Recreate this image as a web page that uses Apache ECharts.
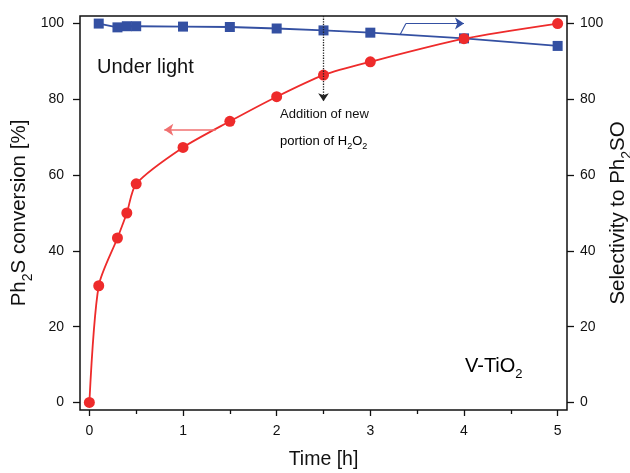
<!DOCTYPE html>
<html>
<head>
<meta charset="utf-8">
<script src="https://cdn.jsdelivr.net/npm/echarts@6/dist/echarts.min.js"></script>
<style>html,body{margin:0;padding:0;background:#fff}#c{width:630px;height:473px}</style>
</head>
<body>
<div id="c"></div>
<script>
// Data
const timeConv = [0, 0.1, 0.3, 0.4, 0.5, 1, 1.5, 2, 2.5, 3, 4, 5];
const conversion = [0, 30.8, 43.4, 50.0, 57.7, 67.3, 74.2, 80.7, 86.4, 89.9, 96.0, 100];
const timeSel = [0.1, 0.3, 0.4, 0.5, 1, 1.5, 2, 2.5, 3, 4, 5];
const selectivity = [100, 99.0, 99.3, 99.3, 99.2, 99.1, 98.7, 98.2, 97.6, 96.1, 94.1];
const xTicks = [0, 1, 2, 3, 4, 5];
const xMinorTicks = [0.5, 1.5, 2.5, 3.5, 4.5];
const yTicks = [0, 20, 40, 60, 80, 100];
const additionTime = 2.5;

const RED = '#ee2b2b';
const BLUE = '#3450a2';
const FONT = 'Liberation Sans, Arial, sans-serif';

const chart = echarts.init(document.getElementById('c'));
const tick = (vals, len) => ({show: true, customValues: vals, length: len, lineStyle: {color: '#111', width: 1.3}});

chart.setOption({
  animation: false,
  textStyle: {fontFamily: FONT},
  grid: {left: 80, right: 63, top: 16, bottom: 63, outerBoundsMode: 'none', containLabel: false,
         show: true, borderColor: '#111', borderWidth: 1.5, backgroundColor: 'transparent'},
  xAxis: [{
    type: 'value', min: -0.1, max: 5.1, position: 'bottom',
    axisLine: {show: false, onZero: false},
    axisTick: tick(xTicks, 6),
    axisLabel: {customValues: xTicks, fontSize: 14, color: '#111', margin: 14},
    splitLine: {show: false},
    name: 'Time [h]', nameLocation: 'middle', nameGap: 40, nameMoveOverlap: false,
    nameTextStyle: {fontSize: 19.5, color: '#111'}
  }, {
    type: 'value', min: -0.1, max: 5.1, position: 'bottom',
    axisLine: {show: false, onZero: false},
    axisTick: tick(xMinorTicks, 4),
    axisLabel: {show: false},
    splitLine: {show: false}
  }],
  yAxis: [{
    type: 'value', min: -2, max: 102, position: 'left',
    axisLine: {show: false, onZero: false},
    axisTick: tick(yTicks, 7),
    axisLabel: {customValues: yTicks, fontSize: 14, color: '#111', margin: 16},
    splitLine: {show: false},
    name: '{n|Ph}{sub|2}{n|S conversion [%]}', nameLocation: 'middle', nameGap: 50, nameRotate: 90, nameMoveOverlap: false,
    nameTextStyle: {fontSize: 20.5, color: '#111', rich: {
      n: {fontSize: 20.5, fontFamily: FONT, color: '#111'},
      sub: {fontSize: 14, fontFamily: FONT, color: '#111', verticalAlign: 'bottom', padding: [0, 0, -5, 0]}}}
  }, {
    type: 'value', min: -2, max: 102, position: 'right',
    axisLine: {show: false, onZero: false},
    axisTick: tick(yTicks, 7),
    axisLabel: {customValues: yTicks, fontSize: 14, color: '#111', margin: 13},
    splitLine: {show: false},
    name: '{n|Selectivity to Ph}{sub|2}{n|SO}', nameLocation: 'middle', nameGap: 41, nameRotate: 90, nameMoveOverlap: false,
    nameTextStyle: {fontSize: 20.5, color: '#111', rich: {
      n: {fontSize: 20.5, fontFamily: FONT, color: '#111'},
      sub: {fontSize: 14, fontFamily: FONT, color: '#111', verticalAlign: 'bottom', padding: [0, 0, -5, 0]}}}
  }],
  series: [{
    name: 'Conversion', type: 'line', xAxisIndex: 0, yAxisIndex: 0,
    data: timeConv.map((t, i) => [t, conversion[i]]),
    smooth: 0.25,
    symbol: 'circle', symbolSize: 11,
    lineStyle: {color: RED, width: 1.8}, itemStyle: {color: RED},
    z: 3,
    markLine: {
      silent: true, animation: false, label: {show: false},
      lineStyle: {color: '#f07070', width: 1.5, type: 'solid'},
      data: [
        [{coord: [1.35, 72.0], symbol: 'none'}, {coord: [0.8, 72.0], symbol: 'arrow', symbolSize: 9}],
        [{coord: [additionTime, 102], symbol: 'none', lineStyle: {color: '#222', type: 'dotted', width: 1.3}},
         {coord: [additionTime, 79.5], symbol: 'arrow', symbolSize: 8, lineStyle: {color: '#222', type: 'dotted', width: 1.3}}]
      ]
    }
  }, {
    name: 'Selectivity', type: 'line', xAxisIndex: 0, yAxisIndex: 1,
    data: timeSel.map((t, i) => [t, selectivity[i]]),
    symbol: 'rect', symbolSize: 10,
    lineStyle: {color: BLUE, width: 1.8}, itemStyle: {color: BLUE},
    z: 2,
    markLine: {
      silent: true, animation: false, label: {show: false},
      lineStyle: {color: BLUE, width: 1.1, type: 'solid'},
      data: [
        [{coord: [3.32, 97.2], symbol: 'none'}, {coord: [3.38, 100.0], symbol: 'none'}],
        [{coord: [3.38, 100.0], symbol: 'none'}, {coord: [4.0, 100.0], symbol: 'arrow', symbolSize: 9}]
      ]
    }
  }],
  graphic: [
    {type: 'text', left: 97, top: 57, style: {text: 'Under light', fontSize: 20, fontFamily: FONT, fill: '#111'}},
    {type: 'text', left: 465, top: 356, style: {text: '{n|V-TiO}{s|2}', rich: {
      n: {fontSize: 20, fontFamily: FONT, color: '#111'},
      s: {fontSize: 13, fontFamily: FONT, color: '#111', verticalAlign: 'bottom', padding: [0, 0, -5, 0]}}}},
    {type: 'text', left: 280, top: 108, style: {text: 'Addition of new', fontSize: 13, fontFamily: FONT, fill: '#111'}},
    {type: 'text', left: 280, top: 135, style: {text: '{n|portion of H}{s|2}{n|O}{s|2}', rich: {
      n: {fontSize: 13, fontFamily: FONT, color: '#111'},
      s: {fontSize: 9, fontFamily: FONT, color: '#111', verticalAlign: 'bottom', padding: [0, 0, -3, 0]}}}}
  ]
});
</script>
</body>
</html>
